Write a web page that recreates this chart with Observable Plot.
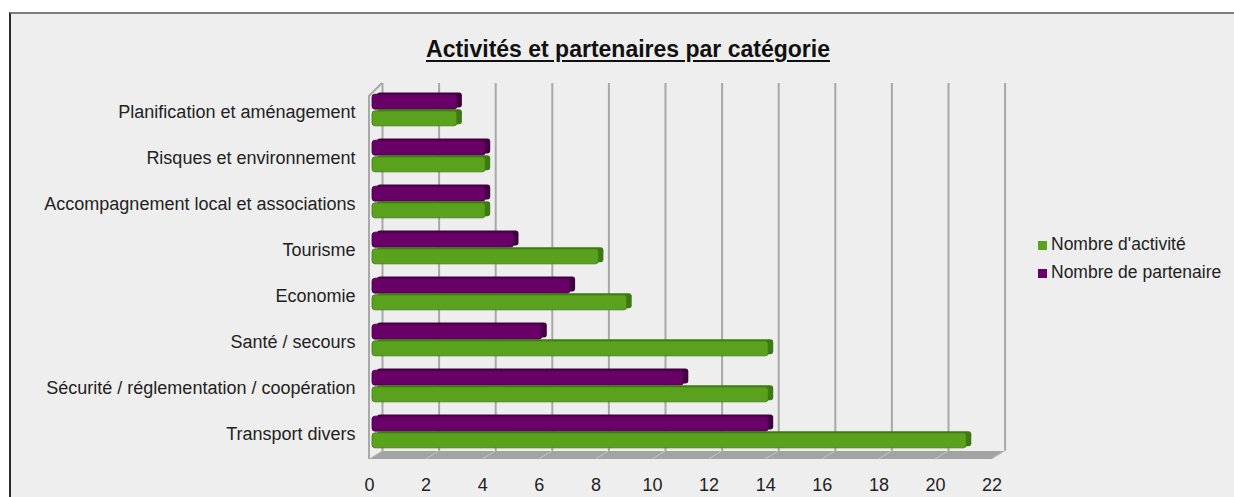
<!DOCTYPE html>
<html><head><meta charset="utf-8">
<script src="https://cdn.jsdelivr.net/npm/d3@7"></script>
<script src="https://cdn.jsdelivr.net/npm/@observablehq/plot@0.6"></script>
<style>
body{margin:0;background:#fff;}
#wrap{position:relative;width:1234px;height:497px;overflow:hidden;background:#fff;font-family:"Liberation Sans",Arial,sans-serif;color:#222;}
#panel{position:absolute;left:9px;top:12px;width:1240px;height:500px;background:#eeeeee;border-top:2px solid #7d7d7d;border-left:2px solid #2a2a2a;}
#chart{position:absolute;left:0;top:0;}
#title{position:absolute;left:0;width:1256px;top:38px;text-align:center;font-size:23px;line-height:23px;font-weight:bold;text-decoration:underline;text-underline-offset:3px;color:#111;}
.leg{position:absolute;left:1038px;font-size:17.5px;line-height:17.5px;white-space:nowrap;color:#222;}
.leg i{display:inline-block;width:9px;height:9px;margin-right:4px;vertical-align:0px;}
</style></head>
<body>
<div id="wrap">
  <div id="panel"></div>
  <div id="chart"></div>
  <div id="title"></div>
  <div id="legend"></div>
</div>
<script>
const categories = [
  "Planification et aménagement",
  "Risques et environnement",
  "Accompagnement local et associations",
  "Tourisme",
  "Economie",
  "Santé / secours",
  "Sécurité / réglementation / coopération",
  "Transport divers"
];
const activites   = [3, 4, 4, 8, 9, 14, 14, 21];
const partenaires = [3, 4, 4, 5, 7, 6, 11, 14];
const xTicks = [0, 2, 4, 6, 8, 10, 12, 14, 16, 18, 20, 22];
const seriesNames = ["Nombre d'activité", "Nombre de partenaire"];
const seriesColors = ["#5aa21e", "#680068"];
const seriesDark = ["#3d7812", "#420042"];
const titleText = "Activités et partenaires par catégorie";

const rows = categories.map((c, i) => ({categorie: c, activite: activites[i], partenaire: partenaires[i]}));

document.getElementById("title").textContent = titleText;
const legend = document.getElementById("legend");
seriesNames.forEach((n, i) => {
  const d = document.createElement("div");
  d.className = "leg";
  d.style.top = (236 + i * 28) + "px";
  d.innerHTML = `<i style="background:${seriesColors[i]}"></i>`;
  d.appendChild(document.createTextNode(n));
  legend.appendChild(d);
});

const UNIT = 28.3, X0 = 372;
const decor = (index, scales, values, dims) => {
  const x = scales.x;
  const g = d3.create("svg:g");
  const xa = x(0), xb = x(22);
  g.append("path")
    .attr("d", `M${xa+10},451 L${xb+10},451 L${xb-3},459 L${xa-3},459 Z`)
    .attr("fill", "#a3a3a3");
  for (const t of xTicks) {
    g.append("line").attr("x1", x(t) - 3).attr("y1", 459).attr("x2", x(t) + 10).attr("y2", 451)
      .attr("stroke", "#c4c4c4").attr("stroke-width", 1);
  }
  g.append("path")
    .attr("d", `M${xa-3},459 L${xa-3},96 L${xa+10},83`)
    .attr("fill", "none").attr("stroke", "#a8a8a8").attr("stroke-width", 2);
  return g.node();
};

const bandH = (456.5 - 85.8) / categories.length;
const half = bandH / 2;
const face = 16, gap = 0.7;

const plot = Plot.plot({
  width: 1234,
  height: 497,
  marginTop: 83,
  marginBottom: 46,
  marginLeft: 369,
  marginRight: 231,
  x: {domain: [0, 22], range: [X0, X0 + 22 * UNIT]},
  y: {domain: categories, range: [85.8, 456.5], padding: 0},
  style: {background: "transparent", fontFamily: "'Liberation Sans', Arial, sans-serif", fontSize: "18px", color: "#222"},
  marks: [
    Plot.ruleX(xTicks, {x: d => d, dx: 10, stroke: "#a8a8a8", strokeWidth: 2}),
    decor,
    Plot.barX(rows, {x: "partenaire", y: "categorie", insetTop: half - face, insetBottom: half + gap, fill: seriesDark[1], dx: 5, dy: -1.7, rx: 3}),
    Plot.barX(rows, {x: "partenaire", y: "categorie", insetTop: half - face, insetBottom: half + gap, fill: seriesColors[1], stroke: seriesDark[1], strokeWidth: 0.8, rx: 3}),
    Plot.barX(rows, {x: "activite", y: "categorie", insetTop: half + gap, insetBottom: half - face, fill: seriesDark[0], dx: 5, dy: -1.7, rx: 3}),
    Plot.barX(rows, {x: "activite", y: "categorie", insetTop: half + gap, insetBottom: half - face, fill: seriesColors[0], stroke: seriesDark[0], strokeWidth: 0.8, rx: 3}),
    Plot.axisY({tickSize: 0, tickPadding: 14, dy: 2, fontSize: 18, fill: "#222", label: null}),
    Plot.axisX({ticks: xTicks, tickSize: 0, tickPadding: 27, dx: -3, fontSize: 18, fill: "#222", label: null})
  ]
});
document.getElementById("chart").appendChild(plot);
</script>
</body></html>
